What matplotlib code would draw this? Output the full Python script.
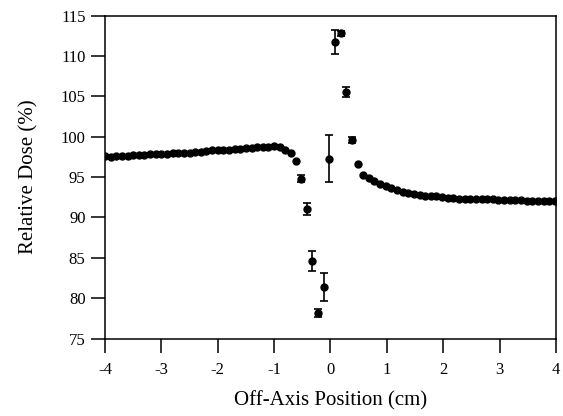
import matplotlib
matplotlib.use("Agg")
import matplotlib.pyplot as plt

plt.rcParams['font.family'] = ['Liberation Serif', 'DejaVu Serif']
plt.rcParams['axes.unicode_minus'] = False

# dense scan, left side (no error bars)
x_left = [-4.0, -3.9, -3.8, -3.7, -3.6, -3.5, -3.4, -3.3, -3.2, -3.1,
          -3.0, -2.9, -2.8, -2.7, -2.6, -2.5, -2.4, -2.3, -2.2, -2.1,
          -2.0, -1.9, -1.8, -1.7, -1.6, -1.5, -1.4, -1.3, -1.2, -1.1,
          -1.0, -0.9, -0.8, -0.7, -0.62]
y_left = [97.6, 97.55, 97.6, 97.65, 97.65, 97.7, 97.75, 97.8, 97.85, 97.85,
          97.9, 97.9, 97.95, 97.95, 98.0, 98.0, 98.05, 98.1, 98.2, 98.3,
          98.35, 98.4, 98.4, 98.45, 98.5, 98.55, 98.6, 98.7, 98.75, 98.75,
          98.8, 98.75, 98.4, 98.0, 96.95]

# central points with error bars
x_mid = [-0.52, -0.42, -0.32, -0.22, -0.11, -0.02, 0.08, 0.18, 0.27, 0.38]
y_mid = [94.8, 91.0, 84.6, 78.15, 81.4, 97.3, 111.7, 112.8, 105.5, 99.6]
err_mid = [0.4, 0.75, 1.25, 0.5, 1.75, 2.95, 1.5, 0.35, 0.6, 0.4]

# dense scan, right side
x_right = [0.48, 0.58, 0.68, 0.78, 0.88, 0.98, 1.08, 1.18, 1.28, 1.38,
           1.48, 1.58, 1.68, 1.78, 1.88, 1.98, 2.08, 2.18, 2.28, 2.38,
           2.48, 2.58, 2.68, 2.78, 2.88, 2.98, 3.08, 3.18, 3.28, 3.38,
           3.48, 3.58, 3.68, 3.78, 3.88, 3.98]
y_right = [96.6, 95.3, 94.9, 94.5, 94.15, 93.85, 93.6, 93.4, 93.2, 93.05,
           92.9, 92.8, 92.7, 92.65, 92.6, 92.5, 92.45, 92.4, 92.3, 92.3,
           92.3, 92.25, 92.25, 92.25, 92.25, 92.2, 92.2, 92.2, 92.15, 92.15,
           92.1, 92.1, 92.1, 92.05, 92.05, 92.0]

fig = plt.figure(figsize=(5.63, 4.16), dpi=100)
ax = fig.add_axes([0.1865, 0.186, 0.801, 0.7765])

ms = 5
ax.plot(x_left, y_left, 'o', color='black', markersize=ms)
ax.plot(x_right, y_right, 'o', color='black', markersize=ms)
ax.errorbar(x_mid, y_mid, yerr=err_mid, fmt='o', color='black', markersize=ms,
            elinewidth=1.2, capsize=3, capthick=1.2)

ax.set_xlim(-4, 4)
ax.set_ylim(75, 115)
ax.set_xticks([-4, -3, -2, -1, 0, 1, 2, 3, 4])
ax.set_yticks([75, 80, 85, 90, 95, 100, 105, 110, 115])
ax.tick_params(direction='out', length=10, width=1.1, labelsize=12, pad=4)
ax.tick_params(axis='x', pad=7)
for s in ax.spines.values():
    s.set_linewidth(1.1)

ax.set_xlabel('Off-Axis Position (cm)', fontsize=15, labelpad=9)
ax.set_ylabel('Relative Dose (%)', fontsize=15, labelpad=16)

fig.savefig('out.png', dpi=100)
